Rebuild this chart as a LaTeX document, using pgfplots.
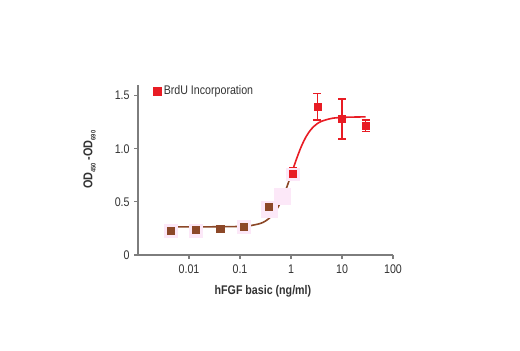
\documentclass[border=0pt]{standalone}
\usepackage{pgfplots}
\pgfplotsset{compat=1.18}
\usepackage{fontspec}
\setmainfont{Liberation Sans}[FakeStretch=0.85]
\definecolor{myred}{RGB}{232,28,36}
\definecolor{mybrown}{RGB}{140,72,40}
\definecolor{mypink}{RGB}{252,232,248}
\definecolor{axgray}{RGB}{125,125,125}
\definecolor{txt}{RGB}{50,50,50}
\newcommand{\sub}[1]{\raisebox{-2.5pt}{\fontsize{5}{5}\selectfont #1}}
\begin{document}
\fontsize{9.4}{11}\selectfont
\begin{tikzpicture}
\useasboundingbox (-103.5pt,-71.25pt) rectangle (286.5pt,191.25pt);
\begin{axis}[
  at={(0,0)}, anchor=south west,
  scale only axis, width=191.25pt, height=127.5pt,
  xmode=log, xmin=0.001, xmax=100, ymin=0, ymax=1.6,
  axis lines=left,
  axis line style={axgray, line width=1pt, -},
  xtick={0.01,0.1,1,10,100}, xticklabels={0.01,0.1,1,10,100},
  ytick={0,0.5,1,1.5}, yticklabels={0,0.5,1.0,1.5},
  xminorticks=false, yminorticks=false,
  tick style={axgray, line width=0.8pt},
  tick align=outside, major tick length=3pt,
  tick label style={font=\fontsize{9.4}{11}\selectfont, text=txt},
  xticklabel style={yshift=-1pt},
  xlabel={\bfseries hFGF basic (ng/ml)},
  xlabel style={at={(axis description cs:0.49,0)}, anchor=center, yshift=-27.5pt, font=\fontsize{9.4}{11}\selectfont, text=txt},
  ylabel={\bfseries OD\sub{450} -OD\sub{690}},
  ylabel style={at={(axis description cs:-0.19,0.56)}, anchor=center, font=\fontsize{9.6}{11}\selectfont, text=txt},
  legend style={at={(axis description cs:0.055,1.02)}, anchor=north west, draw=none, fill=none,
    font=\fontsize{9.4}{11}\selectfont, text=txt, row sep=0pt, inner sep=1pt},
  legend cell align=left,
  clip=false,
]
\addlegendimage{only marks, mark=square*, mark size=2.8pt, color=myred}
\addlegendentry{BrdU Incorporation}
% pink halos
\addplot[only marks, mark=square*, mark size=4.8pt, color=mypink, forget plot] coordinates {
 (0.0044,0.225) (0.0135,0.225) (0.12,0.265) (1.1,0.76)
};
\addplot[only marks, mark=square*, mark size=6pt, color=mypink, forget plot] coordinates {
 (0.37,0.43) (0.68,0.55)
};
% fitted curve
\addplot[mybrown, line width=1.2pt, smooth, forget plot] coordinates {
 (0.0044,0.265) (0.01,0.2651) (0.03,0.2655) (0.1,0.2687) (0.158,0.276) (0.251,0.297) (0.316,0.320)
 (0.398,0.357) (0.501,0.415) (0.631,0.500) (0.794,0.615) (1.0,0.752)
};
\addplot[myred, line width=1.2pt, smooth, forget plot] coordinates {
 (1.0,0.752) (1.259,0.893) (1.585,1.019) (1.995,1.117) (2.512,1.186) (3.162,1.231) (3.981,1.259)
 (6.31,1.286) (10,1.295) (15.85,1.298) (29,1.300)
};
% data points
\addplot[only marks, mark=square*, mark size=2.7pt, color=mybrown, forget plot,
  error bars/.cd, y dir=both, y explicit,
  error bar style={line width=1pt, mybrown},
  error mark options={rotate=90, mark size=2.6pt, line width=1pt, mybrown}]
 coordinates {
 (0.0044,0.225) +- (0,0.015)
 (0.0135,0.235) +- (0,0.035)
 (0.041,0.25) +- (0,0.012)
 (0.12,0.265) +- (0,0.012)
 (0.37,0.455) +- (0,0.047)
};
\addplot[only marks, mark=square*, mark size=2.7pt, color=myred, forget plot,
  error bars/.cd, y dir=both, y explicit,
  error bar style={line width=1.1pt, myred},
  error mark options={rotate=90, mark size=3pt, line width=1.1pt, myred}]
 coordinates {
 (1.1,0.765) +- (0,0.055)
 (3.3,1.395) +- (0,0.125)
 (10,1.28) +- (0,0.19)
 (29,1.215) +- (0,0.055)
};
\end{axis}
\end{tikzpicture}
\end{document}
